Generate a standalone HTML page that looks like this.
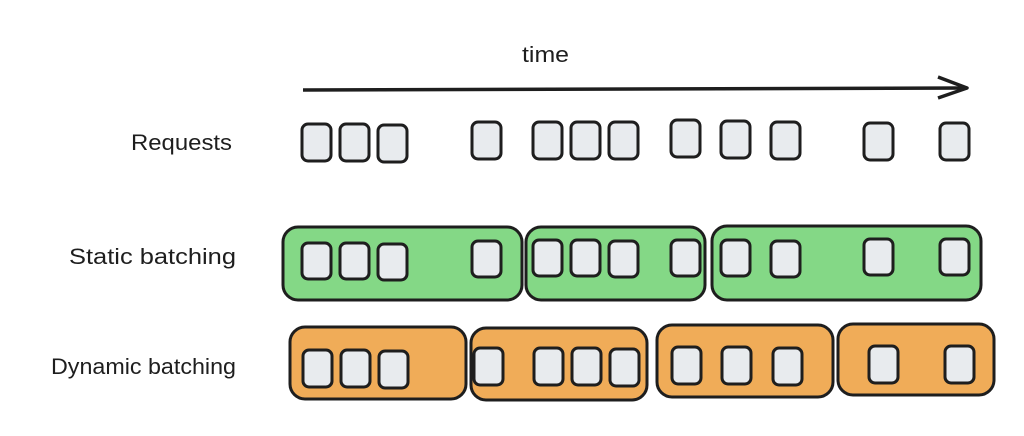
<!DOCTYPE html>
<html><head><meta charset="utf-8"><style>
html,body{margin:0;padding:0;background:#fff;}
svg{display:block}
text{font-family:"Liberation Sans",sans-serif;fill:#1e1e1e;font-size:22px}
</style></head><body>
<svg width="1024" height="436" viewBox="0 0 1024 436" xmlns="http://www.w3.org/2000/svg">
<text x="522" y="62" textLength="47" lengthAdjust="spacingAndGlyphs">time</text>
<path d="M303 90 L967 88" stroke="#1e1e1e" stroke-width="3.5" fill="none"/>
<path d="M938 77 L967 88 L938 98" stroke="#1e1e1e" stroke-width="3.5" fill="none" stroke-linejoin="round"/>
<text x="131" y="150" textLength="101" lengthAdjust="spacingAndGlyphs">Requests</text>
<text x="69" y="264" textLength="167" lengthAdjust="spacingAndGlyphs">Static batching</text>
<text x="51" y="374" textLength="185" lengthAdjust="spacingAndGlyphs">Dynamic batching</text>
<g stroke="#1e1e1e" stroke-width="3">
<rect x="283" y="227" width="239" height="73" rx="15" fill="#84d886"/>
<rect x="526" y="227" width="179" height="73" rx="15" fill="#84d886"/>
<rect x="712" y="226" width="269" height="74" rx="15" fill="#84d886"/>
<rect x="290" y="327" width="176" height="72" rx="15" fill="#f0ac58"/>
<rect x="471" y="328" width="176" height="72" rx="15" fill="#f0ac58"/>
<rect x="657" y="325" width="176" height="72" rx="15" fill="#f0ac58"/>
<rect x="838" y="324" width="156" height="71" rx="15" fill="#f0ac58"/>
</g>
<g stroke="#1e1e1e" stroke-width="3" fill="#e8ebee">
<rect x="302" y="124" width="29" height="37" rx="6"/>
<rect x="340" y="124" width="29" height="37" rx="6"/>
<rect x="378" y="125" width="29" height="37" rx="6"/>
<rect x="472" y="122" width="29" height="37" rx="6"/>
<rect x="533" y="122" width="29" height="37" rx="6"/>
<rect x="571" y="122" width="29" height="37" rx="6"/>
<rect x="609" y="122" width="29" height="37" rx="6"/>
<rect x="671" y="120" width="29" height="37" rx="6"/>
<rect x="721" y="121" width="29" height="37" rx="6"/>
<rect x="771" y="122" width="29" height="37" rx="6"/>
<rect x="864" y="123" width="29" height="37" rx="6"/>
<rect x="940" y="123" width="29" height="37" rx="6"/>
<rect x="302" y="243" width="29" height="36" rx="6"/>
<rect x="340" y="243" width="29" height="36" rx="6"/>
<rect x="378" y="244" width="29" height="36" rx="6"/>
<rect x="472" y="241" width="29" height="36" rx="6"/>
<rect x="533" y="240" width="29" height="36" rx="6"/>
<rect x="571" y="240" width="29" height="36" rx="6"/>
<rect x="609" y="241" width="29" height="36" rx="6"/>
<rect x="671" y="240" width="29" height="36" rx="6"/>
<rect x="721" y="240" width="29" height="36" rx="6"/>
<rect x="771" y="241" width="29" height="36" rx="6"/>
<rect x="864" y="239" width="29" height="36" rx="6"/>
<rect x="940" y="239" width="29" height="36" rx="6"/>
<rect x="303" y="350" width="29" height="37" rx="6"/>
<rect x="341" y="350" width="29" height="37" rx="6"/>
<rect x="379" y="351" width="29" height="37" rx="6"/>
<rect x="474" y="348" width="29" height="37" rx="6"/>
<rect x="534" y="348" width="29" height="37" rx="6"/>
<rect x="572" y="348" width="29" height="37" rx="6"/>
<rect x="610" y="349" width="29" height="37" rx="6"/>
<rect x="672" y="347" width="29" height="37" rx="6"/>
<rect x="722" y="347" width="29" height="37" rx="6"/>
<rect x="773" y="348" width="29" height="37" rx="6"/>
<rect x="869" y="346" width="29" height="37" rx="6"/>
<rect x="945" y="346" width="29" height="37" rx="6"/>
</g>
</svg>
</body></html>
